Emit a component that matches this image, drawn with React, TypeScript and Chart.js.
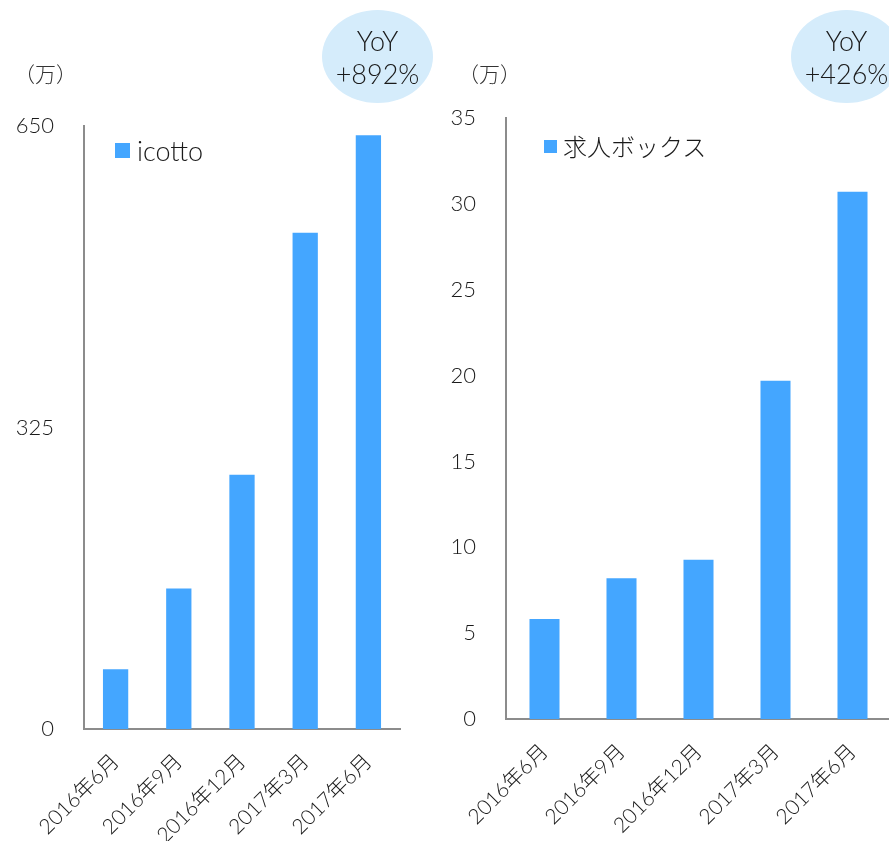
import React, { useEffect, useRef } from "react";
import { Chart, registerables } from "chart.js";

Chart.register(...registerables);

const categories = ["2016年6月", "2016年9月", "2016年12月", "2017年3月", "2017年6月"];
const icottoValues = [64.5, 151.5, 274, 535, 640];
const kyujinValues = [5.83, 8.2, 9.28, 19.7, 30.7];
const icottoAxis = { min: 0, max: 650, step: 325 };
const kyujinAxis = { min: 0, max: 35, step: 5 };
const icottoLabel = "icotto";
const kyujinLabel = "求人ボックス";
const icottoYoY = "+892%";
const kyujinYoY = "+426%";
const unitLabel = "（万）";

const BAR_COLOR = "#44a6ff";
const AXIS_COLOR = "#8c8c8c";
const FONT = "Lato, 'Noto Sans CJK JP', sans-serif";
const TEXT_COLOR = "#1a1a1a";

type BarProps = {
  left: number;
  width: number;
  height: number;
  yAxisWidth: number;
  xAxisHeight: number;
  padTop: number;
  padRight: number;
  label: string;
  values: number[];
  axis: { min: number; max: number; step: number };
  barPct: number;
};

function BarPanel(p: BarProps) {
  const ref = useRef<HTMLCanvasElement | null>(null);
  useEffect(() => {
    if (!ref.current) return;
    const chart = new Chart(ref.current, {
      type: "bar",
      data: {
        labels: categories,
        datasets: [
          {
            label: p.label,
            data: p.values,
            backgroundColor: BAR_COLOR,
            borderWidth: 0,
            barPercentage: p.barPct,
            categoryPercentage: 1,
          },
        ],
      },
      options: {
        responsive: false,
        animation: false,
        layout: { padding: { top: p.padTop, right: p.padRight, left: 0, bottom: 0 } },
        plugins: { legend: { display: false }, tooltip: { enabled: false } },
        scales: {
          x: {
            grid: { display: false, drawTicks: false },
            border: { display: true, color: AXIS_COLOR, width: 2 },
            ticks: {
              autoSkip: false,
              minRotation: 45,
              maxRotation: 45,
              padding: 20,
              color: TEXT_COLOR,
              font: { family: FONT, size: 21, weight: 300 },
            },
            afterFit: (s: any) => {
              s.height = p.xAxisHeight;
            },
          },
          y: {
            min: p.axis.min,
            max: p.axis.max,
            grid: { display: false, drawTicks: false },
            border: { display: true, color: AXIS_COLOR, width: 2 },
            ticks: {
              stepSize: p.axis.step,
              padding: 30,
              color: TEXT_COLOR,
              font: { family: FONT, size: 22, weight: 300 },
            },
            afterFit: (s: any) => {
              s.width = p.yAxisWidth;
            },
          },
        },
      },
    });
    return () => chart.destroy();
  }, []);
  return (
    <canvas
      ref={ref}
      width={p.width}
      height={p.height}
      style={{ position: "absolute", left: p.left, top: 0, width: p.width, height: p.height }}
    />
  );
}

function Bubble({ left, text }: { left: number; text: string }) {
  return (
    <div
      style={{
        position: "absolute",
        left,
        top: 10,
        width: 111,
        height: 93,
        borderRadius: "50%",
        background: "#d5ecfb",
        display: "flex",
        flexDirection: "column",
        alignItems: "center",
        justifyContent: "center",
        fontFamily: FONT,
        fontSize: 27,
        fontWeight: 300,
        lineHeight: "33px",
        color: TEXT_COLOR,
      }}
    >
      <div>YoY</div>
      <div>{text}</div>
    </div>
  );
}

function Legend({ left, top, size, text, fontSize, textLeft }: any) {
  return (
    <>
      <div style={{ position: "absolute", left, top, width: size, height: size, background: BAR_COLOR }} />
      <div
        style={{
          position: "absolute",
          left: textLeft,
          top: top + size / 2 - 20,
          height: 40,
          lineHeight: "40px",
          fontFamily: FONT,
          fontSize,
          fontWeight: 300,
          color: TEXT_COLOR,
          whiteSpace: "nowrap",
        }}
      >
        {text}
      </div>
    </>
  );
}

function Unit({ left }: { left: number }) {
  return (
    <div
      style={{
        position: "absolute",
        left,
        top: 60,
        height: 28,
        lineHeight: "28px",
        fontFamily: FONT,
        fontSize: 21,
        fontWeight: 300,
        color: "#333",
        whiteSpace: "nowrap",
      }}
    >
      {unitLabel}
    </div>
  );
}

export default function App() {
  return (
    <div
      style={{
        position: "fixed",
        left: 0,
        top: 0,
        width: 889,
        height: 841,
        overflow: "hidden",
        background: "#fff",
      }}
    >
      <BarPanel
        left={0}
        width={440}
        height={841}
        yAxisWidth={84}
        xAxisHeight={112}
        padTop={126}
        padRight={40}
        label={icottoLabel}
        values={icottoValues}
        axis={icottoAxis}
        barPct={0.4}
      />
      <BarPanel
        left={440}
        width={460}
        height={841}
        yAxisWidth={66}
        xAxisHeight={122}
        padTop={118}
        padRight={9}
        label={kyujinLabel}
        values={kyujinValues}
        axis={kyujinAxis}
        barPct={0.39}
      />
      <Bubble left={322} text={icottoYoY} />
      <Bubble left={791} text={kyujinYoY} />
      <Unit left={14} />
      <Unit left={458} />
      <Legend left={115} top={143} size={15} text={icottoLabel} fontSize={27} textLeft={137} />
      <Legend left={544} top={140} size={13} text={kyujinLabel} fontSize={24} textLeft={563} />
    </div>
  );
}
